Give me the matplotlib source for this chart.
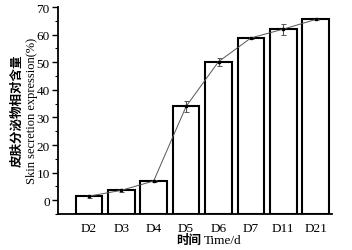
import matplotlib.pyplot as plt
from matplotlib.ticker import MultipleLocator

days = ['D2', 'D3', 'D4', 'D5', 'D6', 'D7', 'D11', 'D21']
values = [1.5, 3.6, 7.0, 34.0, 50.2, 58.8, 62.0, 65.5]
errors = [0.5, 0.5, 0.3, 2.0, 1.5, 0.5, 2.0, 0.3]

plt.rcParams['font.family'] = ['Liberation Serif', 'Noto Sans CJK SC']
plt.rcParams['font.size'] = 9.5

fig = plt.figure(figsize=(3.52, 2.51), dpi=100)
ax = fig.add_axes([0.165, 0.143, 0.778, 0.825])

base = -5
x = range(len(days))
ax.bar(x, [v - base for v in values], bottom=base, width=0.82, color='white',
       edgecolor='black', linewidth=1.5, zorder=2)
ax.errorbar(x, values, yerr=errors, color='#555555', linewidth=0.7,
            elinewidth=0.8, capsize=1.8, capthick=0.7,
            marker='s', markersize=2, markerfacecolor='black',
            markeredgecolor='black', zorder=3)

ax.set_xlim(-0.95, len(days) - 0.5)
ax.set_ylim(base, 70)
ax.set_xticks(list(x))
ax.set_xticklabels(days)
ax.yaxis.set_major_locator(MultipleLocator(10))
ax.yaxis.set_minor_locator(MultipleLocator(5))
ax.tick_params(axis='x', direction='in', length=3, width=0.8, pad=6)
ax.tick_params(axis='y', which='major', direction='out', length=4, width=1, pad=2)
ax.tick_params(axis='y', which='minor', direction='out', length=2, width=0.8)

for s in ['top', 'right']:
    ax.spines[s].set_visible(False)
for s in ['left', 'bottom']:
    ax.spines[s].set_linewidth(1.3)

fig.text(0.048, 0.56, '皮肤分泌物相对含量', rotation=90, ha='center', va='center',
         fontsize=9, fontweight='bold', family=['Noto Sans CJK SC'])
fig.text(0.09, 0.56, 'Skin secretion expression(%)', rotation=90, ha='center', va='center',
         fontsize=9)
fig.text(0.572, 0.04, '时间', ha='right', va='center', fontsize=9, fontweight='bold',
         family=['Noto Sans CJK SC'])
fig.text(0.58, 0.04, 'Time/d', ha='left', va='center', fontsize=9.5)

fig.savefig('out.png', dpi=100)
